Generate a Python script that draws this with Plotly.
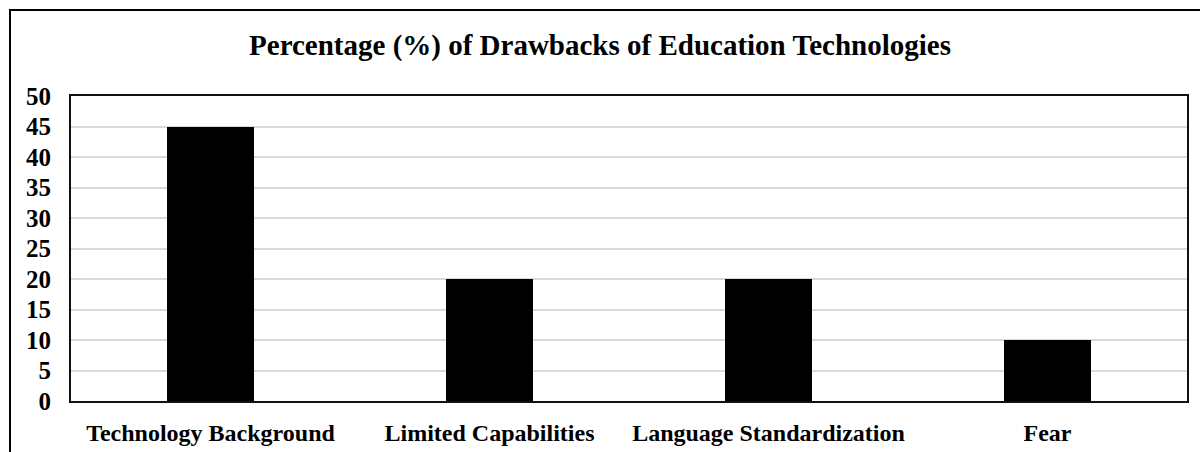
import plotly.graph_objects as go

categories = ["Technology Background", "Limited Capabilities", "Language Standardization", "Fear"]
values = [45, 20, 20, 10]
y_ticks = [0, 5, 10, 15, 20, 25, 30, 35, 40, 45, 50]
title_text = "Percentage (%) of Drawbacks of Education Technologies"

FONT = "Liberation Serif, Times New Roman, serif"

fig = go.Figure(go.Bar(
    x=categories, y=values,
    marker=dict(color="black", line=dict(width=0)),
    width=0.315,
))

W, H = 1200, 452
L, R, T, B = 71, 13, 96, 51
pw, ph = W - L - R, H - T - B

fig.update_layout(
    width=W, height=H,
    margin=dict(l=L, r=R, t=T, b=B, pad=0),
    paper_bgcolor="white", plot_bgcolor="white",
    showlegend=False,
    bargap=0,
    title=dict(text="<b>" + title_text + "</b>", x=0.5, xanchor="center",
               y=1 - 45 / H, yanchor="middle",
               font=dict(family=FONT, size=29, color="black")),
    font=dict(family=FONT, color="black"),
)
fig.update_yaxes(
    range=[0, 50], tickvals=y_ticks,
    ticktext=["<b>%d</b>" % v for v in y_ticks],
    tickfont=dict(family=FONT, size=25, color="black"),
    showgrid=True, gridcolor="#d9d9d9", gridwidth=2,
    zeroline=False, automargin=False,
    showline=True, linecolor="#111", linewidth=2, mirror=True,
    ticks="", ticklabelstandoff=13,
)
fig.update_xaxes(
    tickvals=categories,
    ticktext=["<b>%s</b>" % c for c in categories],
    tickfont=dict(family=FONT, size=24, color="black"),
    showline=True, linecolor="#111", linewidth=2, mirror=True,
    ticks="", ticklabelstandoff=9, automargin=False,
)
# outer frame (only top and left edges visible in the image)
fig.add_shape(type="rect", xref="paper", yref="paper",
              x0=(10 - L) / pw, x1=(W + 20 - L) / pw,
              y0=(H - B - (H + 20)) / ph, y1=(H - B - 10) / ph,
              line=dict(color="black", width=2), fillcolor="rgba(0,0,0,0)", layer="below")

fig.write_html("out.html")
